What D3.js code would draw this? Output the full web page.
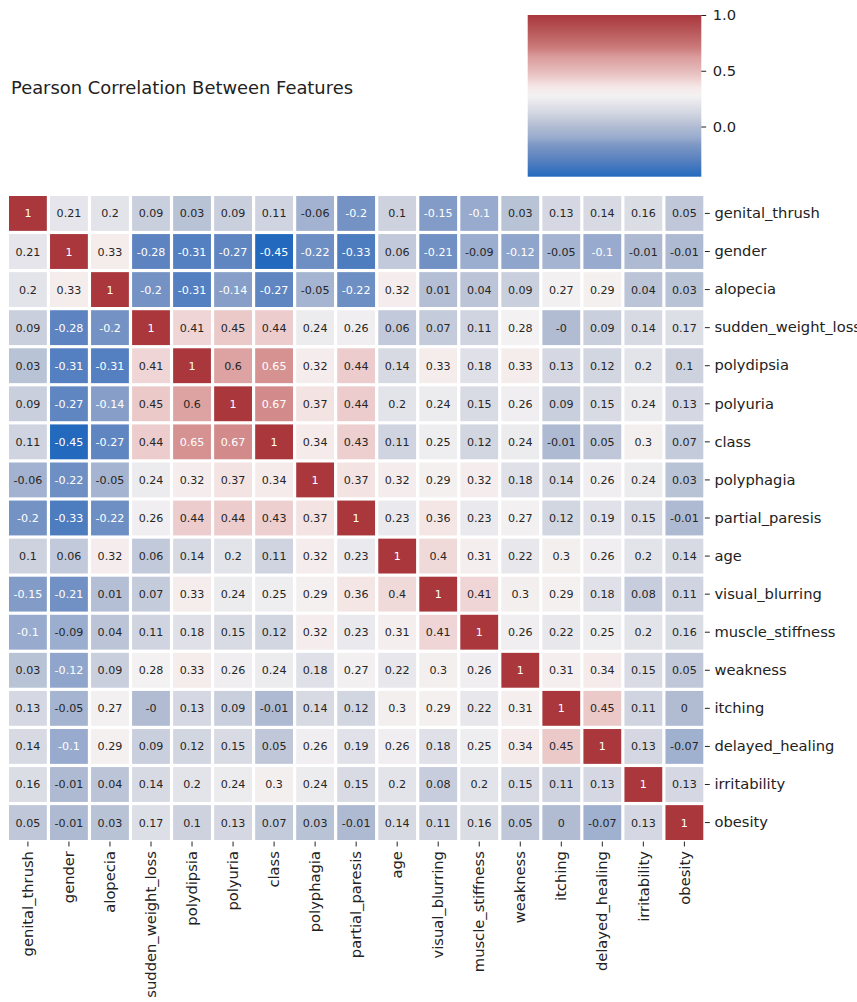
<!DOCTYPE html>
<html lang="en">
<head>
<meta charset="UTF-8">
<title>Pearson Correlation Between Features</title>
<script src="https://d3js.org/d3.v7.min.js"></script>
<style>
  body { margin: 0; background: #fff; }
  text { font-family: "DejaVu Sans", sans-serif; }
</style>
</head>
<body>
<script>
// feature order (rows top->bottom, columns left->right)
const features = ["genital_thrush", "gender", "alopecia", "sudden_weight_loss", "polydipsia",
  "polyuria", "class", "polyphagia", "partial_paresis", "age", "visual_blurring",
  "muscle_stiffness", "weakness", "itching", "delayed_healing", "irritability", "obesity"];

// rounded pearson coefficients, one row per feature
const corr = [
  [1, 0.21, 0.2, 0.09, 0.03, 0.09, 0.11, -0.06, -0.2, 0.1, -0.15, -0.1, 0.03, 0.13, 0.14, 0.16, 0.05],
  [0.21, 1, 0.33, -0.28, -0.31, -0.27, -0.45, -0.22, -0.33, 0.06, -0.21, -0.09, -0.12, -0.05, -0.1, -0.01, -0.01],
  [0.2, 0.33, 1, -0.2, -0.31, -0.14, -0.27, -0.05, -0.22, 0.32, 0.01, 0.04, 0.09, 0.27, 0.29, 0.04, 0.03],
  [0.09, -0.28, -0.2, 1, 0.41, 0.45, 0.44, 0.24, 0.26, 0.06, 0.07, 0.11, 0.28, -0, 0.09, 0.14, 0.17],
  [0.03, -0.31, -0.31, 0.41, 1, 0.6, 0.65, 0.32, 0.44, 0.14, 0.33, 0.18, 0.33, 0.13, 0.12, 0.2, 0.1],
  [0.09, -0.27, -0.14, 0.45, 0.6, 1, 0.67, 0.37, 0.44, 0.2, 0.24, 0.15, 0.26, 0.09, 0.15, 0.24, 0.13],
  [0.11, -0.45, -0.27, 0.44, 0.65, 0.67, 1, 0.34, 0.43, 0.11, 0.25, 0.12, 0.24, -0.01, 0.05, 0.3, 0.07],
  [-0.06, -0.22, -0.05, 0.24, 0.32, 0.37, 0.34, 1, 0.37, 0.32, 0.29, 0.32, 0.18, 0.14, 0.26, 0.24, 0.03],
  [-0.2, -0.33, -0.22, 0.26, 0.44, 0.44, 0.43, 0.37, 1, 0.23, 0.36, 0.23, 0.27, 0.12, 0.19, 0.15, -0.01],
  [0.1, 0.06, 0.32, 0.06, 0.14, 0.2, 0.11, 0.32, 0.23, 1, 0.4, 0.31, 0.22, 0.3, 0.26, 0.2, 0.14],
  [-0.15, -0.21, 0.01, 0.07, 0.33, 0.24, 0.25, 0.29, 0.36, 0.4, 1, 0.41, 0.3, 0.29, 0.18, 0.08, 0.11],
  [-0.1, -0.09, 0.04, 0.11, 0.18, 0.15, 0.12, 0.32, 0.23, 0.31, 0.41, 1, 0.26, 0.22, 0.25, 0.2, 0.16],
  [0.03, -0.12, 0.09, 0.28, 0.33, 0.26, 0.24, 0.18, 0.27, 0.22, 0.3, 0.26, 1, 0.31, 0.34, 0.15, 0.05],
  [0.13, -0.05, 0.27, -0, 0.13, 0.09, -0.01, 0.14, 0.12, 0.3, 0.29, 0.22, 0.31, 1, 0.45, 0.11, 0],
  [0.14, -0.1, 0.29, 0.09, 0.12, 0.15, 0.05, 0.26, 0.19, 0.26, 0.18, 0.25, 0.34, 0.45, 1, 0.13, -0.07],
  [0.16, -0.01, 0.04, 0.14, 0.2, 0.24, 0.3, 0.24, 0.15, 0.2, 0.08, 0.2, 0.15, 0.11, 0.13, 1, 0.13],
  [0.05, -0.01, 0.03, 0.17, 0.1, 0.13, 0.07, 0.03, -0.01, 0.14, 0.11, 0.16, 0.05, 0, -0.07, 0.13, 1]
];

const cbarTicks = [0, 0.5, 1.0];
const vmin = d3.min(corr.flat()), vmax = d3.max(corr.flat());

// approximation of seaborn "vlag"
const vlagStops = [
  [0, "#2369bd"], [0.1, "#5680c0"], [0.2, "#7f99c5"], [0.245, "#9aadcf"], [0.3, "#adb9d1"],
  [0.4, "#d5d8e2"], [0.45, "#e4e4ea"], [0.5, "#f3f1f2"], [0.55, "#f6eaea"], [0.6, "#eed2d2"],
  [0.65, "#e6bcbc"], [0.74, "#db9c9c"], [0.8, "#cb7a7a"], [0.9, "#b8575a"], [1, "#a9373b"]
];
const vlag = d3.scaleLinear()
  .domain(vlagStops.map(d => d[0]))
  .range(vlagStops.map(d => d[1]))
  .interpolate(d3.interpolateRgb);
const norm = d3.scaleLinear().domain([vmin, vmax]).range([0, 1]).clamp(true);
const color = v => vlag(norm(v));

function luminance(c) {
  const rgb = d3.rgb(c);
  const lin = [rgb.r, rgb.g, rgb.b].map(u => {
    u = u / 255;
    return u <= 0.03928 ? u / 12.92 : Math.pow((u + 0.055) / 1.055, 2.4);
  });
  return 0.2126 * lin[0] + 0.7152 * lin[1] + 0.0722 * lin[2];
}
const fmt = v => Object.is(v, -0) ? "-0" : String(v);

const svg = d3.select("body").append("svg")
  .attr("width", 857)
  .attr("height", 1002);

const x = d3.scaleBand().domain(features).range([7.4, 704.9]);
const y = d3.scaleBand().domain(features).range([194.4, 841.6]);
const gap = 1.6;

const cells = [];
corr.forEach((row, i) => row.forEach((v, j) => cells.push({ r: features[i], c: features[j], v: v })));

const g = svg.append("g");
g.selectAll("rect.cell")
  .data(cells)
  .enter()
  .append("rect")
  .attr("class", "cell")
  .attr("x", d => x(d.c) + gap)
  .attr("y", d => y(d.r) + gap)
  .attr("width", x.bandwidth() - 2 * gap)
  .attr("height", y.bandwidth() - 2 * gap)
  .attr("fill", d => color(d.v));

g.selectAll("text.annot")
  .data(cells)
  .enter()
  .append("text")
  .attr("class", "annot")
  .attr("x", d => x(d.c) + x.bandwidth() / 2)
  .attr("y", d => y(d.r) + y.bandwidth() / 2)
  .attr("dy", "0.36em")
  .attr("text-anchor", "middle")
  .attr("font-size", "11.1px")
  .attr("fill", d => luminance(color(d.v)) > 0.408 ? "#262626" : "#ffffff")
  .text(d => fmt(d.v));

// right axis (row labels)
const yAxis = svg.append("g")
  .attr("transform", "translate(" + x.range()[1] + ",0)")
  .call(d3.axisRight(y).tickSize(4.9).tickPadding(4.6));
// bottom axis (column labels)
const xAxis = svg.append("g")
  .attr("transform", "translate(0," + y.range()[1] + ")")
  .call(d3.axisBottom(x).tickSize(4.9).tickPadding(4.6));
xAxis.selectAll("text")
  .attr("transform", "rotate(-90)")
  .attr("text-anchor", "end")
  .attr("x", -9.5)
  .attr("y", 0)
  .attr("dy", "0.35em");
[yAxis, xAxis].forEach(a => {
  a.select(".domain").remove();
  a.selectAll("line").attr("stroke", "#222").attr("stroke-width", 1);
  a.selectAll("text").attr("font-size", "14.7px").attr("fill", "#222")
    .attr("font-family", "DejaVu Sans, sans-serif");
});

// colorbar
const cb = { x: 527.7, y: 15, w: 173.6, h: 161.7 };
const cy = d3.scaleLinear().domain([vmin, vmax]).range([cb.y + cb.h, cb.y]);
const grad = svg.append("defs").append("linearGradient")
  .attr("id", "vlag").attr("x1", 0).attr("y1", 1).attr("x2", 0).attr("y2", 0);
grad.selectAll("stop")
  .data(d3.range(0, 1.0001, 0.02))
  .enter()
  .append("stop")
  .attr("offset", d => d)
  .attr("stop-color", d => vlag(d));
svg.append("rect")
  .attr("x", cb.x).attr("y", cb.y)
  .attr("width", cb.w).attr("height", cb.h)
  .attr("fill", "url(#vlag)");
const cAxis = svg.append("g")
  .attr("transform", "translate(" + (cb.x + cb.w) + ",0)")
  .call(d3.axisRight(cy).tickValues(cbarTicks).tickFormat(d3.format(".1f")).tickSize(4.9).tickPadding(6.5));
cAxis.select(".domain").remove();
cAxis.selectAll("line").attr("stroke", "#222");
cAxis.selectAll("text").attr("font-size", "14.7px").attr("fill", "#222")
  .attr("font-family", "DejaVu Sans, sans-serif");

svg.append("text")
  .attr("x", 11)
  .attr("y", 94)
  .attr("font-size", "17.9px")
  .attr("fill", "#222")
  .text("Pearson Correlation Between Features");
</script>
</body>
</html>
